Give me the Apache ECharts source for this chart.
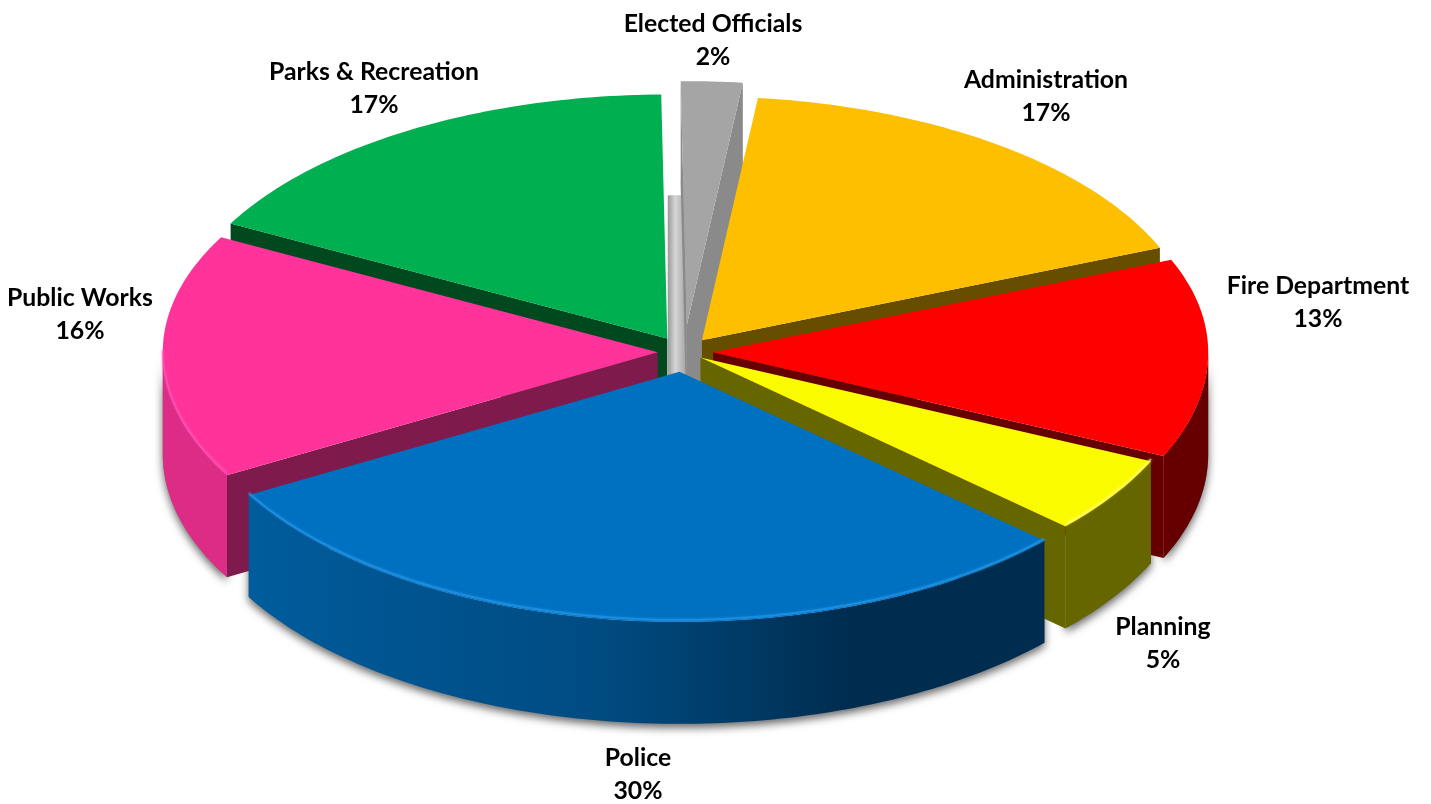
<!DOCTYPE html>
<html>
<head>
<meta charset="utf-8">
<title>Budget by department</title>
<style>html,body{margin:0;padding:0;background:#fff}#chart{width:1431px;height:804px}</style>
<script src="https://cdn.jsdelivr.net/npm/echarts@6/dist/echarts.min.js"></script>
</head>
<body>
<div id="chart"></div>
<script>
// Department shares, clockwise from twelve o'clock.
const departments = ['Elected Officials', 'Administration', 'Fire Department', 'Planning', 'Police', 'Public Works', 'Parks & Recreation'];
const shares = [2, 17, 13, 5, 30, 16, 17];

// Slice styling, same order as the departments.
const topColors = ['#a5a5a5', '#fdbf00', '#ff0000', '#fbfb00', '#0070c0', '#ff3399', '#00b050'];
const sideColors = ['#8a8a8a', '#664d00', '#660000', '#666600', '#00305a', '#7e1a4c', '#00491f'];
const rimColors = ['#8a8a8a', '#664d00', '#660000', '#666600', '#004a80', '#dc2c86', '#00491f'];
const bevelColors = [null, null, null, '#ffff80', '#2a9cf0', '#ff55bb', null];
const pullOut = [0.11, 0.06, 0.059, 0.04, 0.08, 0.053, 0.065];
const paintOrder = [0, 6, 1, 5, 2, 3, 4];
const labelCentres = [[713, 41], [1046, 97], [1318, 303], [1163, 644], [638, 775], [80, 315], [374, 89]];

// Projection of the disc onto the page.
const view = { cx: 684, cy: 352, rx: 495, ryBack: 244, ryFront: 250, depth: 102, startAngle: -0.7 };
const RAD = Math.PI / 180;
const total = shares.reduce((a, b) => a + b, 0);

function sliceAngles(i) {
  let before = 0;
  for (let k = 0; k < i; k++) before += shares[k];
  return [view.startAngle + before / total * 360, view.startAngle + (before + shares[i]) / total * 360];
}
function onDisc(deg, scale) {
  const s = Math.sin(deg * RAD), c = Math.cos(deg * RAD);
  return [view.rx * s * scale, -c * (c > 0 ? view.ryBack : view.ryFront) * scale];
}
function apexOf(i, a) {
  const mid = onDisc((a[0] + a[1]) / 2, pullOut[i]);
  return [view.cx + mid[0], view.cy + mid[1]];
}
function arc(apex, from, to, drop) {
  const pts = [], steps = Math.max(2, Math.ceil(Math.abs(to - from)));
  for (let n = 0; n <= steps; n++) {
    const p = onDisc(from + (to - from) * n / steps, 1);
    pts.push([apex[0] + p[0], apex[1] + p[1] + drop]);
  }
  return pts;
}
function rimRange(a) {
  const from = Math.max(a[0], 90), to = Math.min(a[1], 270);
  return to > from ? [from, to] : null;
}
function rimShape(apex, range) {
  return arc(apex, range[0], range[1], 0).concat(arc(apex, range[1], range[0], view.depth));
}
function rimFill(i) {
  if (departments[i] !== 'Police') return rimColors[i];
  return new echarts.graphic.LinearGradient(250, 0, 1055, 0, [
    { offset: 0, color: '#005c9c' },
    { offset: 0.45, color: '#004a80' },
    { offset: 0.75, color: '#002c4e' },
    { offset: 1, color: '#002c50' }
  ], true);
}
function sideWall(apex, deg, color) {
  const p = onDisc(deg, 1), d = view.depth;
  const rim = [apex[0] + p[0], apex[1] + p[1]];
  return { type: 'polygon', shape: { points: [apex, rim, [rim[0], rim[1] + d], [apex[0], apex[1] + d]] }, style: { fill: color } };
}

// Soft drop shadow under the rims, kept below every slice.
function renderShadow(params, api) {
  const i = paintOrder[params.dataIndex];
  const a = sliceAngles(i), range = rimRange(a);
  if (!range) return { type: 'group', children: [] };
  return {
    type: 'polygon',
    shape: { points: rimShape(apexOf(i, a), range) },
    style: { fill: '#808080', shadowBlur: 9, shadowColor: 'rgba(0,0,0,0.6)', shadowOffsetY: 4 }
  };
}

function renderSlice(params, api) {
  const i = paintOrder[params.dataIndex];
  const a = sliceAngles(i), apex = apexOf(i, a);
  const children = [];
  const startSin = Math.sin(a[0] * RAD), endSin = Math.sin(a[1] * RAD);

  // Sheen beside the narrow raised slice, and the dark core behind it.
  if (departments[i] === 'Elected Officials') {
    const back = onDisc(a[0], 1)[1] + apex[1] + view.depth;
    const left = apex[0] - 19, edge = apex[0] - 6, right = apex[0];
    children.push({
      type: 'polygon',
      shape: { points: [[left, back + 12], [edge, back + 12], [edge, back - 3], [right, back - 3], [right, apex[1] + 60], [left, apex[1] + 60]] },
      style: {
        fill: new echarts.graphic.LinearGradient(left, 0, right, 0, [
          { offset: 0, color: '#999999' },
          { offset: 0.4, color: '#d6d6d6' },
          { offset: 0.7, color: '#bcbcbc' },
          { offset: 1, color: '#a0a0a0' }
        ], true)
      }
    });
    children.push({
      type: 'rect',
      shape: { x: apex[0], y: apex[1], width: 16, height: 70 },
      style: { fill: sideColors[i] }
    });
  }
  if (startSin < 0) children.push(sideWall(apex, a[0], sideColors[i]));
  if (endSin > 0) children.push(sideWall(apex, a[1], sideColors[i]));

  const range = rimRange(a);
  if (range) {
    children.push({ type: 'polygon', shape: { points: rimShape(apex, range) }, style: { fill: rimFill(i) } });
  }
  children.push({
    type: 'polygon',
    shape: { points: [apex].concat(arc(apex, a[0], a[1], 0)) },
    style: { fill: topColors[i] }
  });
  if (range && bevelColors[i]) {
    children.push({
      type: 'polyline',
      shape: { points: arc(apex, range[0], range[1], -2) },
      style: { fill: 'none', stroke: bevelColors[i], lineWidth: 2, opacity: 0.55, shadowBlur: 3, shadowColor: bevelColors[i] }
    });
  }
  return { type: 'group', children: children };
}

// Two-line captions with the department name and its share.
function renderLabel(params, api) {
  const i = params.dataIndex;
  return {
    type: 'text',
    style: {
      x: labelCentres[i][0],
      y: labelCentres[i][1],
      text: departments[i] + '\n' + api.value(1) + '%',
      fill: '#000000',
      font: 'bold 24.8px Lato, "Open Sans", sans-serif',
      lineHeight: 33,
      align: 'center',
      verticalAlign: 'middle'
    }
  };
}

const chart = echarts.init(document.getElementById('chart'));
const paintedRows = paintOrder.map(i => [i, shares[i]]);
chart.setOption({
  animation: false,
  backgroundColor: '#ffffff',
  series: [
    { type: 'custom', coordinateSystem: 'none', silent: true, z: 1, renderItem: renderShadow, data: paintedRows },
    { type: 'custom', coordinateSystem: 'none', silent: true, z: 2, renderItem: renderSlice, data: paintedRows },
    { type: 'custom', coordinateSystem: 'none', silent: true, z: 3, renderItem: renderLabel, data: shares.map((v, i) => [i, v]) }
  ]
});
</script>
</body>
</html>
